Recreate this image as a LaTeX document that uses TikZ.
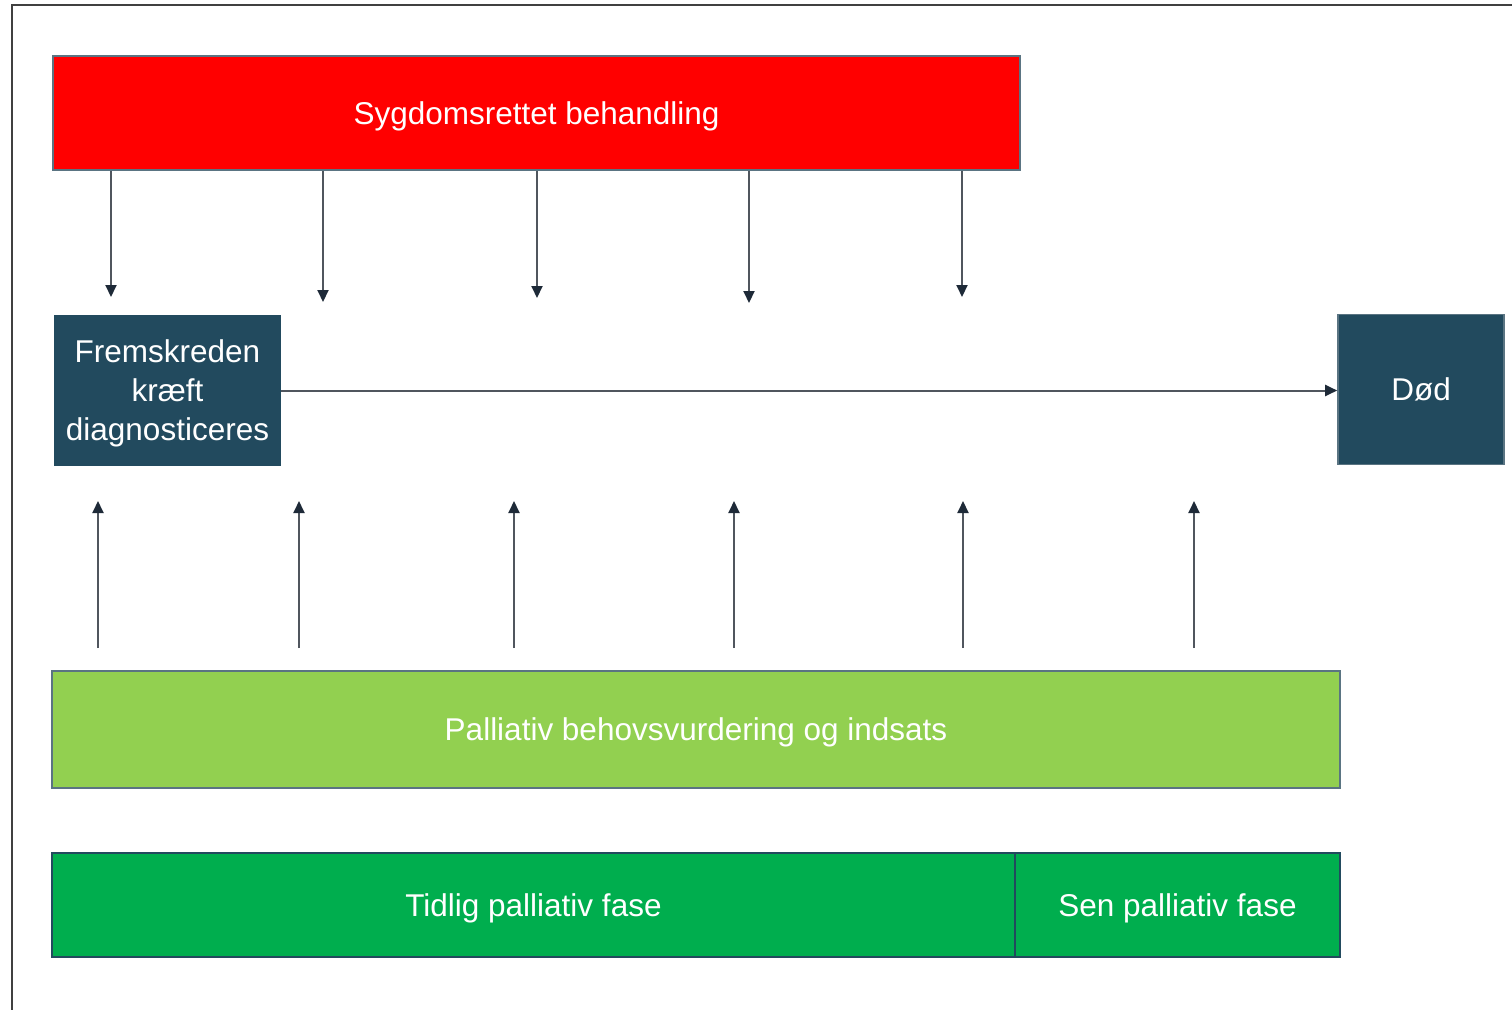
\documentclass[tikz,border=0pt]{standalone}
\usepackage{fontspec}
\setmainfont{Liberation Sans}
\usetikzlibrary{arrows.meta}
\definecolor{boxblue}{HTML}{224A5E}
\definecolor{edge}{HTML}{5A7482}
\definecolor{lgreen}{HTML}{92D050}
\definecolor{dgreen}{HTML}{00AE4E}
\definecolor{wire}{HTML}{50565E}
\definecolor{tip}{HTML}{1E2A38}
\tikzset{
  box/.style={draw=edge, line width=1.6pt, inner sep=0pt, text=white,
    font=\fontsize{31.5}{39}\selectfont, align=center, text depth=0pt},
  conn/.style={draw=wire, line width=2pt,
    -{Triangle[length=12pt,width=11pt,color=tip]}},
}
\begin{document}
\begin{tikzpicture}[x=1pt,y=-1pt]
\useasboundingbox (0,0) rectangle (1512,1010);
% frame
\draw[line width=1.6pt, draw=black!75] (1512,5) -- (12,5) -- (12,1010);
% boxes
\node[box, fill=red, minimum width=967pt, minimum height=114pt] (red) at (536.5,113) {Sygdomsrettet behandling};
\node[box, fill=boxblue, draw=boxblue, minimum width=225pt, minimum height=149pt] (frem) at (167.5,390.5) {Fremskreden\\kræft\\diagnosticeres};
\node[box, fill=boxblue, minimum width=166pt, minimum height=150pt] (dod) at (1421,389.5) {Død};
\node[box, fill=lgreen, minimum width=1288pt, minimum height=117pt] (pal) at (696,729.5) {Palliativ behovsvurdering og indsats};
\node[box, fill=dgreen, draw=boxblue, minimum width=963pt, minimum height=104pt] (tidlig) at (533.5,905) {Tidlig palliativ fase};
\node[box, fill=dgreen, draw=boxblue, minimum width=325pt, minimum height=104pt] (sen) at (1177.5,905) {Sen palliativ fase};
% down arrows
\foreach \x/\e [count=\i] in {111/297,323/302,537/298,749/303,962/297}{
  \coordinate (d\i) at (\x,\e);
  \draw[conn] (red.south -| d\i) -- (d\i);
}
% up arrows
\foreach \x [count=\i] in {98,299,514,734,963,1194}{
  \coordinate (u\i) at (\x,501);
  \coordinate (s\i) at (\x,648);
  \draw[conn] (s\i) -- (u\i);
}
% main timeline
\draw[conn] (frem.east) -- (frem.east -| dod.west);
\end{tikzpicture}
\end{document}
